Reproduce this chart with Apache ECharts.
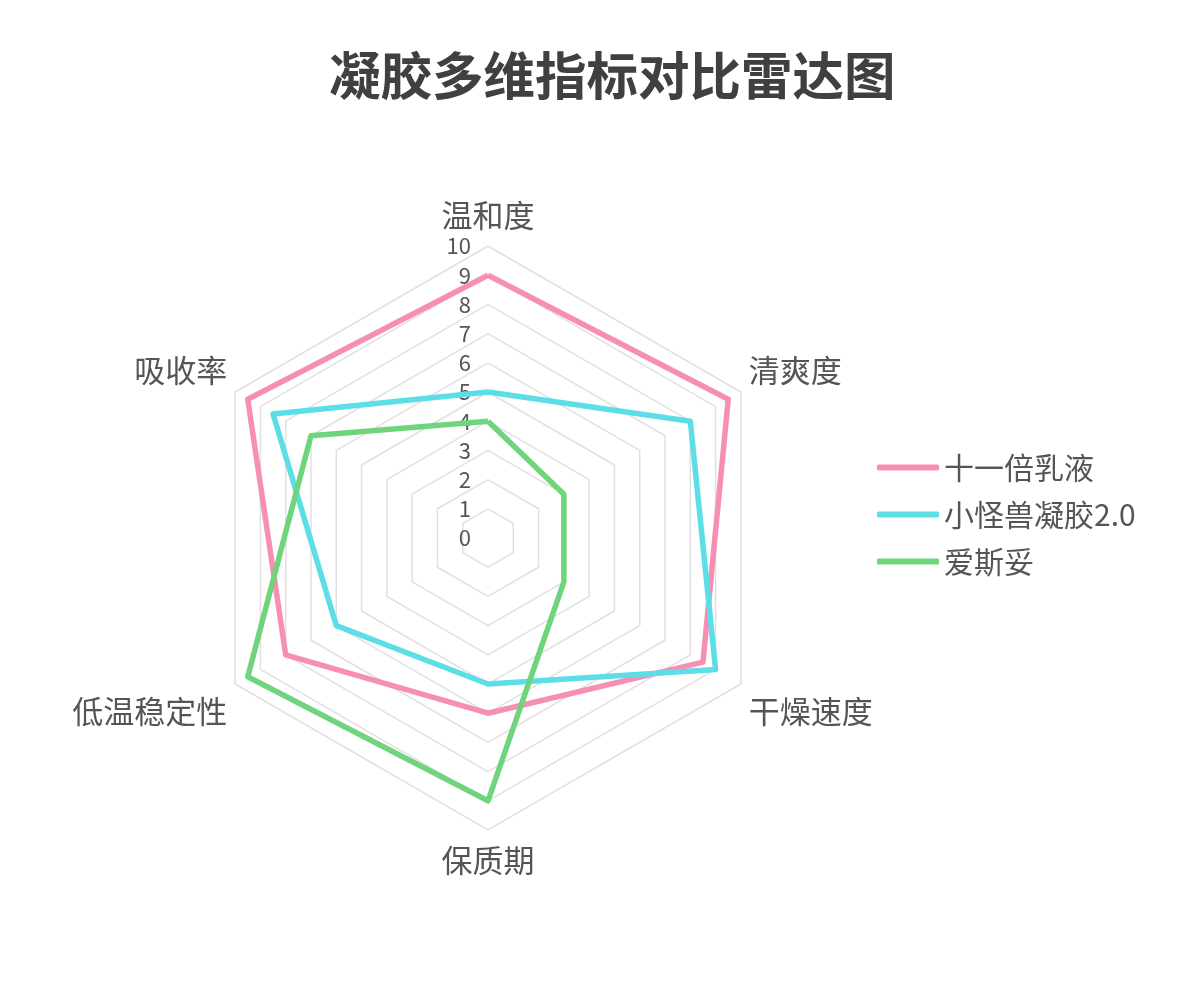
<!DOCTYPE html>
<html>
<head>
<meta charset="utf-8">
<script src="https://cdn.jsdelivr.net/npm/echarts@6/dist/echarts.min.js"></script>
<style>
html,body{margin:0;padding:0;background:#fff;}
#main{width:1200px;height:984px;}
</style>
</head>
<body>
<div id="main"></div>
<script>
// Categories in clockwise order starting at the top
const categories = ['温和度', '清爽度', '干燥速度', '保质期', '低温稳定性', '吸收率'];
const seriesNames = ['十一倍乳液', '小怪兽凝胶2.0', '爱斯妥'];
const valuesShiyi = [9, 9.5, 8.5, 6, 8, 9.5];
const valuesXiaoguaishou = [5, 8, 9, 5, 6, 8.5];
const valuesAisituo = [4, 3, 3, 9, 9.5, 7];
const axisMax = 10;
const colors = ['#F68FB2', '#5CDEE7', '#6FD47C'];

// ECharts places indicators counter-clockwise; reorder to get clockwise layout
function ccw(arr) {
  return [arr[0]].concat(arr.slice(1).reverse());
}

const fontFamily = '"Noto Sans CJK SC", "Noto Sans", sans-serif';

// per-axis name text tweaks, clockwise order
const nameStyles = [
  { padding: [0, 0, 3, 0] },
  { verticalAlign: 'bottom' },
  { verticalAlign: 'top', padding: [6, 0, 0, 0] },
  { padding: [4, 0, 0, 0] },
  { verticalAlign: 'top', padding: [6, 0, 0, 0] },
  { verticalAlign: 'bottom' }
];
const ccwStyles = ccw(nameStyles);

const indicator = ccw(categories).map(function (name, i) {
  const ind = { name: name, max: axisMax, min: 0, nameTextStyle: ccwStyles[i] };
  if (i === 0) {
    ind.axisLabel = { show: true };
  }
  return ind;
});

const allValues = [valuesShiyi, valuesXiaoguaishou, valuesAisituo];

const chart = echarts.init(document.getElementById('main'));
chart.setOption({
  backgroundColor: '#ffffff',
  title: {
    text: '凝胶多维指标对比雷达图',
    left: 324,
    top: 45,
    textStyle: { fontSize: 51.5, fontWeight: 'bold', color: '#404040', fontFamily: fontFamily }
  },
  legend: {
    orient: 'vertical',
    left: 872,
    top: 447,
    itemWidth: 62,
    itemHeight: 6,
    itemGap: 16,
    icon: 'roundRect',
    data: seriesNames,
    textStyle: { fontSize: 30, color: '#555555', fontFamily: fontFamily, lineHeight: 31 }
  },
  radar: {
    center: [488, 538],
    radius: 292,
    startAngle: 90,
    shape: 'polygon',
    splitNumber: 10,
    nameGap: 9,
    axisName: { color: '#555555', fontSize: 31, lineHeight: 34, fontFamily: fontFamily },
    axisLine: { show: false },
    axisTick: { show: false },
    axisLabel: { show: false, color: '#555555', fontSize: 22, fontFamily: fontFamily, margin: 17 },
    splitLine: { lineStyle: { color: '#e0e0e0', width: 1.5 } },
    splitArea: { show: false },
    indicator: indicator
  },
  series: [{
    type: 'radar',
    symbol: 'none',
    data: allValues.map(function (vals, i) {
      return {
        name: seriesNames[i],
        value: ccw(vals),
        lineStyle: { color: colors[i], width: 5.5 },
        itemStyle: { color: colors[i] }
      };
    })
  }]
});
</script>
</body>
</html>
